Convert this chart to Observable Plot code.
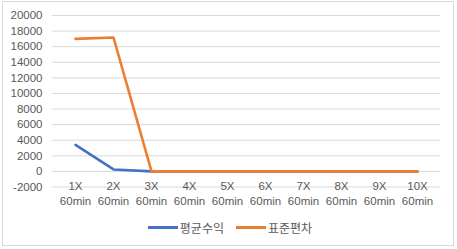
<!DOCTYPE html>
<html>
<head>
<meta charset="utf-8">
<script src="https://cdn.jsdelivr.net/npm/d3@7"></script>
<script src="https://cdn.jsdelivr.net/npm/@observablehq/plot@0.6"></script>
<style>
  html, body { margin: 0; padding: 0; background: #fff; }
  #wrap { position: relative; width: 457px; height: 249px; overflow: hidden; font-family: "Liberation Sans", "Noto Sans CJK KR", sans-serif; }
  #frame { position: absolute; left: 2px; top: 1px; width: 452px; height: 245px; border: 1px solid #d9d9d9; box-sizing: border-box; pointer-events: none; }
  #chart { position: absolute; left: 0; top: 0; }
  #legend { position: absolute; left: 0; top: 219px; width: 457px; display: flex; justify-content: center; align-items: center; font-family: "Noto Sans CJK KR", sans-serif; font-size: 12px; color: #595959; padding-left: 3px; box-sizing: border-box; }
  .item { display: flex; align-items: center; margin: 0 6px; }
  .swatch { width: 30px; height: 3px; margin-right: 2px; }
</style>
</head>
<body>
<div id="wrap">
  <div id="chart"></div>
  <div id="frame"></div>
  <div id="legend"></div>
</div>
<script>
const categories = ["1X\n60min","2X\n60min","3X\n60min","4X\n60min","5X\n60min","6X\n60min","7X\n60min","8X\n60min","9X\n60min","10X\n60min"];
const avgReturn = [3400, 250, 0, 0, 0, 0, 0, 0, 0, 0];
const stdDev = [17000, 17180, 0, 0, 0, 0, 0, 0, 0, 0];
const yTicks = [-2000, 0, 2000, 4000, 6000, 8000, 10000, 12000, 14000, 16000, 18000, 20000];
const seriesNames = ["평균수익", "표준편차"];
const colors = ["#4472C4", "#ED7D31"];

const rows = [];
categories.forEach((c, i) => {
  rows.push({cat: c, value: avgReturn[i], series: seriesNames[0]});
  rows.push({cat: c, value: stdDev[i], series: seriesNames[1]});
});

const chart = Plot.plot({
  width: 457,
  height: 215,
  marginTop: 15,
  marginBottom: 28.5,
  marginLeft: 52,
  marginRight: 17,
  style: {fontFamily: "Liberation Sans, sans-serif", fontSize: "11.5px", color: "#595959", background: "transparent"},
  x: {type: "point", domain: categories, padding: 0.5},
  y: {domain: [-2000, 20000]},
  color: {domain: seriesNames, range: colors},
  marks: [
    Plot.gridY(yTicks, {stroke: "#d9d9d9", strokeOpacity: 1, strokeWidth: 1}),
    Plot.axisY(yTicks, {tickSize: 0, tickPadding: 10, label: null, tickFormat: d => String(d), fill: "#595959"}),
    Plot.axisX({tickSize: 0, tickPadding: -8, label: null, lineHeight: 1.3, fill: "#595959"}),
    Plot.line(rows.filter(d => d.series === seriesNames[0]), {x: "cat", y: "value", stroke: colors[0], strokeWidth: 2.6, strokeLinejoin: "round", strokeLinecap: "round"}),
    Plot.line(rows.filter(d => d.series === seriesNames[1]), {x: "cat", y: "value", stroke: colors[1], strokeWidth: 2.6, strokeLinejoin: "round", strokeLinecap: "round"})
  ]
});
document.getElementById("chart").appendChild(chart);

const legend = document.getElementById("legend");
seriesNames.forEach((n, i) => {
  const it = document.createElement("div");
  it.className = "item";
  const sw = document.createElement("div");
  sw.className = "swatch";
  sw.style.background = colors[i];
  const t = document.createElement("span");
  t.textContent = n;
  it.appendChild(sw); it.appendChild(t);
  legend.appendChild(it);
});
</script>
</body>
</html>
